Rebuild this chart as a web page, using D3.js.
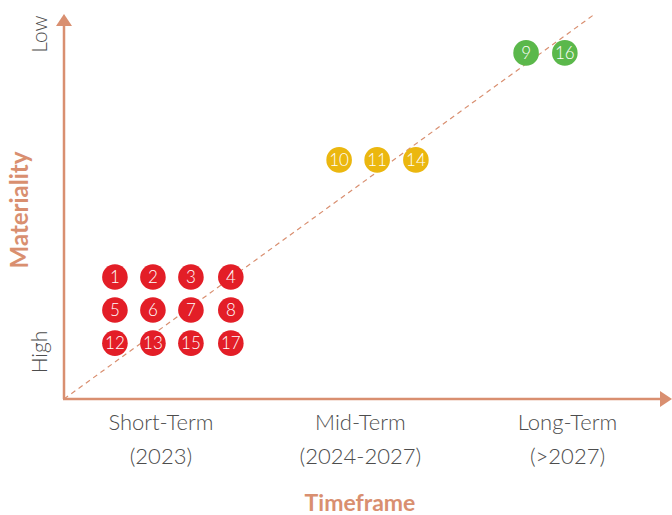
<!DOCTYPE html>
<html><head><meta charset="utf-8">
<script src="https://cdn.jsdelivr.net/npm/d3@7"></script>
<style>html,body{margin:0;padding:0;background:#fff;}svg{display:block;}</style>
</head><body>
<script>
// Data
const timeframes = ["Short-Term", "Mid-Term", "Long-Term"];
const timeframeYears = ["(2023)", "(2024-2027)", "(>2027)"];
const timeframePos = [2.55, 7.8, 13.25];
const issueIds   = [1, 2, 3, 4, 5, 6, 7, 8, 12, 13, 15, 17, 10, 11, 14, 9, 16];
const issueX     = [1.34, 2.34, 3.34, 4.39, 1.34, 2.34, 3.34, 4.39, 1.34, 2.34, 3.34, 4.39, 7.24, 8.24, 9.26, 12.16, 13.18];
const issueY     = [3.17, 3.17, 3.17, 3.17, 2.31, 2.31, 2.31, 2.31, 1.45, 1.45, 1.45, 1.45, 6.21, 6.21, 6.21, 8.99, 8.99];
const issueGroup = ["short","short","short","short","short","short","short","short","short","short","short","short","mid","mid","mid","long","long"];
const yLabels = ["High", "Low"];

const W = 672, H = 515;
const axisColor = "#d98f70";
const groupColor = {short: "#e31e27", mid: "#ebb70f", long: "#5bb84b"};

const svg = d3.select("body").append("svg").attr("width", W).attr("height", H);

const x = d3.scaleLinear().domain([0, 16]).range([64, 672]);
const y = d3.scaleLinear().domain([0, 10]).range([399, 14]);

// dashed diagonal
svg.append("line")
  .attr("x1", x(0)).attr("y1", y(0))
  .attr("x2", x(13.97)).attr("y2", y(10))
  .attr("stroke", axisColor).attr("stroke-width", 1.2)
  .attr("stroke-dasharray", "5,4");

// axes
svg.append("line").attr("x1", x(0)).attr("y1", y(0)).attr("x2", x(0)).attr("y2", y(10) + 10)
  .attr("stroke", axisColor).attr("stroke-width", 2.5);
svg.append("path").attr("d", `M${x(0)-8},${y(10)+12} L${x(0)},${y(10)} L${x(0)+8},${y(10)+12} Z`).attr("fill", axisColor);
svg.append("line").attr("x1", x(0) - 1).attr("y1", y(0)).attr("x2", x(16) - 10).attr("y2", y(0))
  .attr("stroke", axisColor).attr("stroke-width", 2.5);
svg.append("path").attr("d", `M${x(16)-12},${y(0)-8} L${x(16)},${y(0)} L${x(16)-12},${y(0)+8} Z`).attr("fill", axisColor);

const font = "Lato, 'Open Sans', sans-serif";

// x category labels
const xl = svg.append("g");
timeframes.forEach((t, i) => {
  xl.append("text").attr("x", x(timeframePos[i])).attr("y", 430)
    .attr("text-anchor", "middle").attr("font-family", font).attr("font-weight", 300)
    .attr("font-size", 22).attr("fill", "#4d4d4d").text(t);
  xl.append("text").attr("x", x(timeframePos[i])).attr("y", 464)
    .attr("text-anchor", "middle").attr("font-family", font).attr("font-weight", 300)
    .attr("font-size", 22).attr("fill", "#4d4d4d").text(timeframeYears[i]);
});
svg.append("text").attr("x", 360).attr("y", 511).attr("text-anchor", "middle")
  .attr("font-family", font).attr("font-weight", 700).attr("font-size", 23)
  .attr("fill", axisColor).text("Timeframe");

// y labels
[[yLabels[0], 352], [yLabels[1], 34]].forEach(([t, cy]) => {
  svg.append("text").attr("transform", `translate(47,${cy}) rotate(-90)`)
    .attr("text-anchor", "middle").attr("font-family", font).attr("font-weight", 300)
    .attr("font-size", 21).attr("fill", "#4d4d4d").text(t);
});
svg.append("text").attr("transform", `translate(28,210) rotate(-90)`)
  .attr("text-anchor", "middle").attr("font-family", font).attr("font-weight", 700)
  .attr("font-size", 24).attr("fill", axisColor).text("Materiality");

// dots
const dots = issueIds.map((id, i) => ({id, x: issueX[i], y: issueY[i], g: issueGroup[i]}));
const dg = svg.append("g").selectAll("g").data(dots).join("g")
  .attr("transform", d => `translate(${x(d.x)},${y(d.y)})`);
dg.append("circle").attr("r", 12.8).attr("fill", d => groupColor[d.g]);
dg.append("text").attr("text-anchor", "middle").attr("dy", "0.36em")
  .attr("font-family", font).attr("font-weight", 300)
  .attr("font-size", 17).attr("fill", "#fff").text(d => d.id);
</script>
</body></html>
